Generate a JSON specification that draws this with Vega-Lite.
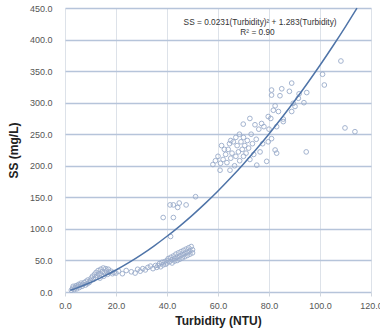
{
  "$schema": "https://vega.github.io/schema/vega-lite/v6.json",
  "width": 306,
  "height": 284,
  "autosize": {"type": "none"},
  "padding": {"left": 65, "top": 8, "right": 9, "bottom": 41},
  "background": "white",
  "config": {
    "view": {"stroke": null},
    "font": "Liberation Sans",
    "axisX": {"gridColor": "#dde2e9", "tickColor": "#d0d6de", "domainColor": "#d0d6de", "gridWidth": 1},
    "axisY": {"gridColor": "#b6c4da", "tickColor": "#b6c4da", "domainColor": "#dfe4ea", "gridWidth": 1.3}
  },
  "datasets": {
    "pts": [
      {"t":2.5,"ss":3},{"t":3,"ss":6},{"t":3.2,"ss":9},{"t":3.6,"ss":4},{"t":4,"ss":7},{"t":4.3,"ss":10},{"t":4.6,"ss":5},{"t":5,"ss":9},{"t":5.3,"ss":12},{"t":5.6,"ss":7},{"t":6,"ss":11},{"t":6.3,"ss":14},{"t":6.7,"ss":9},{"t":7,"ss":12},{"t":7.5,"ss":15},{"t":8,"ss":11},{"t":8.3,"ss":17},{"t":8.7,"ss":13},{"t":9,"ss":19},{"t":9.5,"ss":15},{"t":10,"ss":18},{"t":10.3,"ss":22},
      {"t":10.8,"ss":25},{"t":11.2,"ss":20},{"t":11.6,"ss":28},{"t":12,"ss":23},{"t":12.2,"ss":31},{"t":12.6,"ss":26},{"t":13,"ss":34},{"t":13.3,"ss":29},{"t":13.7,"ss":22},{"t":14,"ss":36},{"t":14.2,"ss":27},{"t":14.6,"ss":32},{"t":15,"ss":38},{"t":15.2,"ss":25},{"t":15.6,"ss":30},{"t":16,"ss":37},{"t":16.3,"ss":33},{"t":16.7,"ss":28},{"t":17,"ss":36},{"t":17.5,"ss":31},{"t":18,"ss":33},{"t":18.6,"ss":29},{"t":19.2,"ss":31},{"t":20,"ss":30},
      {"t":21,"ss":33},{"t":22.5,"ss":29},{"t":24,"ss":34},{"t":26,"ss":32},{"t":27.5,"ss":30},{"t":28.5,"ss":36},{"t":29.5,"ss":33},{"t":30.5,"ss":37},{"t":31.5,"ss":35},{"t":32.5,"ss":39},{"t":33.5,"ss":41},{"t":34.5,"ss":37},{"t":35.5,"ss":42},{"t":36,"ss":39},
      {"t":36.5,"ss":42},{"t":37,"ss":45},{"t":37.5,"ss":40},{"t":38,"ss":47},{"t":38.5,"ss":43},{"t":39,"ss":48},{"t":39.5,"ss":44},{"t":40,"ss":50},{"t":40,"ss":46},{"t":40.5,"ss":53},{"t":41,"ss":48},{"t":41.5,"ss":55},{"t":42,"ss":51},{"t":42,"ss":46},{"t":42.5,"ss":57},{"t":43,"ss":53},{"t":43,"ss":49},{"t":43.5,"ss":60},{"t":44,"ss":55},{"t":44,"ss":50},{"t":44.5,"ss":62},{"t":45,"ss":57},{"t":45,"ss":52},{"t":45.5,"ss":64},{"t":46,"ss":59},{"t":46,"ss":54},{"t":46.5,"ss":66},{"t":47,"ss":61},{"t":47,"ss":56},{"t":47.5,"ss":68},{"t":48,"ss":63},{"t":48,"ss":58},{"t":48.5,"ss":70},{"t":49,"ss":65},{"t":49,"ss":60},{"t":49.5,"ss":72},{"t":50,"ss":67},{"t":50,"ss":62},
      {"t":38.5,"ss":118},{"t":42.5,"ss":118},{"t":41.2,"ss":138},{"t":42.5,"ss":138},{"t":44.2,"ss":134},{"t":44.8,"ss":141},{"t":47.5,"ss":138},{"t":51.2,"ss":151},{"t":41.4,"ss":88},
      {"t":58,"ss":202},{"t":59,"ss":208},{"t":60,"ss":215},{"t":60.8,"ss":193},{"t":61,"ss":204},{"t":61.4,"ss":232},{"t":62,"ss":210},{"t":62.5,"ss":226},{"t":63,"ss":218},{"t":63.5,"ss":205},{"t":64,"ss":226},{"t":64.7,"ss":193},{"t":64.5,"ss":235},{"t":65,"ss":212},{"t":65,"ss":240},{"t":65.5,"ss":220},{"t":66,"ss":238},{"t":66.5,"ss":200},{"t":67,"ss":245},{"t":67,"ss":215},{"t":67.5,"ss":232},{"t":68,"ss":222},{"t":68.4,"ss":250},{"t":68.5,"ss":208},{"t":69,"ss":238},{"t":69.5,"ss":226},{"t":69.9,"ss":266},{"t":70,"ss":215},{"t":70,"ss":245},{"t":70.5,"ss":232},{"t":71,"ss":220},{"t":71.5,"ss":240},{"t":72,"ss":228},{"t":72.5,"ss":275},{"t":72.5,"ss":210},{"t":73,"ss":250},{"t":73.5,"ss":235},{"t":74,"ss":218},{"t":74.5,"ss":265},{"t":75,"ss":242},{"t":75.2,"ss":201},{"t":76,"ss":258},{"t":76.5,"ss":222},{"t":77.1,"ss":267},{"t":77.5,"ss":235},{"t":78,"ss":262},{"t":79.1,"ss":207},{"t":79.7,"ss":238},{"t":79.7,"ss":278},{"t":80,"ss":258},{"t":80.7,"ss":275},{"t":81,"ss":243},{"t":81,"ss":312},{"t":81,"ss":320},{"t":81.7,"ss":288},{"t":82.4,"ss":225},{"t":82.4,"ss":295},{"t":83,"ss":220},{"t":83,"ss":262},{"t":83.7,"ss":286},{"t":84.3,"ss":311},{"t":85,"ss":322},{"t":85.6,"ss":270},{"t":85.6,"ss":274},{"t":88,"ss":318},{"t":88.9,"ss":331},{"t":88.9,"ss":286},{"t":89.5,"ss":299},{"t":90.2,"ss":294},{"t":91.5,"ss":307},{"t":91.8,"ss":314},{"t":93.7,"ss":300},{"t":94.6,"ss":222},{"t":94.8,"ss":316},{"t":101,"ss":345},{"t":101.7,"ss":328},{"t":108.2,"ss":366},{"t":109.8,"ss":260},{"t":113.7,"ss":254}
    ],
    "fit": [
      {"t":2,"ss":2.7},{"t":5,"ss":7.0},{"t":10,"ss":15.1},{"t":15,"ss":24.4},{"t":20,"ss":34.9},{"t":25,"ss":46.5},{"t":30,"ss":59.3},{"t":35,"ss":73.2},{"t":40,"ss":88.3},{"t":45,"ss":104.5},{"t":50,"ss":121.9},{"t":55,"ss":140.4},{"t":60,"ss":160.1},{"t":65,"ss":181.0},{"t":70,"ss":203.0},{"t":75,"ss":226.2},{"t":80,"ss":250.5},{"t":85,"ss":276.0},{"t":90,"ss":302.6},{"t":95,"ss":330.4},{"t":100,"ss":359.3},{"t":105,"ss":389.4},{"t":110,"ss":420.6},{"t":114.5,"ss":449.7}
    ],
    "note": [
      {"t":76.5,"ss":426,"label":"SS = 0.0231(Turbidity)² + 1.283(Turbidity)"},
      {"t":75.5,"ss":410,"label":"R² = 0.90"}
    ]
  },
  "layer": [
    {
      "data": {"name": "pts"},
      "mark": {"type": "point", "shape": "circle", "filled": false, "size": 22, "strokeWidth": 1, "color": "#9aaccb", "opacity": 0.9},
      "encoding": {
        "x": {"field": "t", "type": "quantitative", "scale": {"domain": [0, 120], "nice": false},
          "axis": {"values": [0,20,40,60,80,100,120], "tickCount": 20, "format": ".1f", "labelOverlap": false, "labelFlush": false, "title": "Turbidity (NTU)", "titleFontSize": 12, "titleFontWeight": "bold", "titleColor": "#222222", "titlePadding": 5, "labelFontSize": 9, "labelColor": "#555555", "labelPadding": 5, "tickSize": 4, "domain": false}},
        "y": {"field": "ss", "type": "quantitative", "scale": {"domain": [0, 450], "nice": false},
          "axis": {"values": [0,50,100,150,200,250,300,350,400,450], "tickCount": 20, "format": ".1f", "labelOverlap": false, "labelFlush": false, "title": "SS (mg/L)", "titleFontSize": 12, "titleFontWeight": "bold", "titleColor": "#222222", "titlePadding": 9, "labelFontSize": 9, "labelColor": "#555555", "labelPadding": 13, "ticks": false, "domain": false}}
      }
    },
    {
      "data": {"name": "fit"},
      "mark": {"type": "line", "interpolate": "monotone", "color": "#4f74a8", "strokeWidth": 1.5},
      "encoding": {
        "x": {"field": "t", "type": "quantitative"},
        "y": {"field": "ss", "type": "quantitative"}
      }
    },
    {
      "data": {"name": "note"},
      "mark": {"type": "text", "fontSize": 8.3, "color": "#333333", "align": "center", "baseline": "middle"},
      "encoding": {
        "x": {"field": "t", "type": "quantitative"},
        "y": {"field": "ss", "type": "quantitative"},
        "text": {"field": "label"}
      }
    }
  ]
}
